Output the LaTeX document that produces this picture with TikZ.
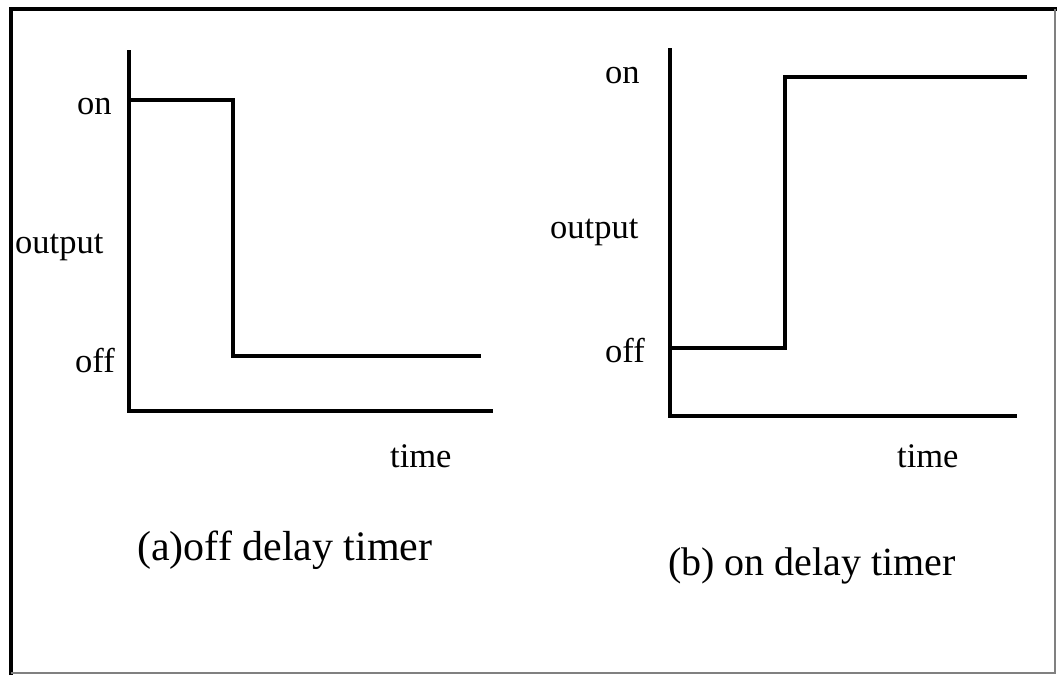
\documentclass[tikz,border=0pt]{standalone}
\usepackage{fontspec}
\setmainfont{Liberation Serif}
\begin{document}
\begin{tikzpicture}[x=1pt, y=-1pt,
    axisline/.style={line width=3.6pt},
    signal/.style={line width=3.6pt, line join=miter},
    lbl/.style={anchor=base west, inner sep=0pt, font=\fontsize{34.5}{40}\selectfont},
    caption/.style={anchor=base west, inner sep=0pt, font=\fontsize{42}{48}\selectfont},
  ]
  \useasboundingbox (0,0) rectangle (1057,675);
  % outer frame
  \draw[line width=4pt] (11,675) -- (11,9) -- (1057,9);
  \draw[gray, line width=1.2pt] (1055,9) -- (1055,673) -- (11,673);

  % (a) off delay timer
  \coordinate (a-top) at (129,50);
  \coordinate (a-org) at (129,411);
  \coordinate (a-end) at (493,411);
  \coordinate (a-on) at (129,100);
  \coordinate (a-fall) at (233,100);
  \coordinate (a-low) at (233,356);
  \coordinate (a-off) at (481,356);
  \draw[axisline] (a-top) -- (a-org) -- (a-end);
  \draw[signal] (a-on) -- (a-fall) -- (a-low) -- (a-off);
  \node[lbl] (a-onlbl) at (77,114) {on};
  \node[lbl] (a-outlbl) at (15,253) {output};
  \node[lbl] (a-offlbl) at (75,372) {off};
  \node[lbl] (a-timelbl) at (390,467) {time};
  \node[caption] (a-cap) at (137,560) {(a)off delay timer};

  % (b) on delay timer
  \coordinate (b-top) at (670,48);
  \coordinate (b-org) at (670,416);
  \coordinate (b-end) at (1017,416);
  \coordinate (b-off) at (670,348);
  \coordinate (b-rise) at (785,348);
  \coordinate (b-high) at (785,77);
  \coordinate (b-on) at (1027,77);
  \draw[axisline] (b-top) -- (b-org) -- (b-end);
  \draw[signal] (b-off) -- (b-rise) -- (b-high) -- (b-on);
  \node[lbl] (b-onlbl) at (605,83) {on};
  \node[lbl] (b-outlbl) at (550,238) {output};
  \node[lbl] (b-offlbl) at (605,362) {off};
  \node[lbl] (b-timelbl) at (897,467) {time};
  \node[caption, font=\fontsize{40}{46}\selectfont] (b-cap) at (668,575) {(b) on delay timer};
\end{tikzpicture}
\end{document}
